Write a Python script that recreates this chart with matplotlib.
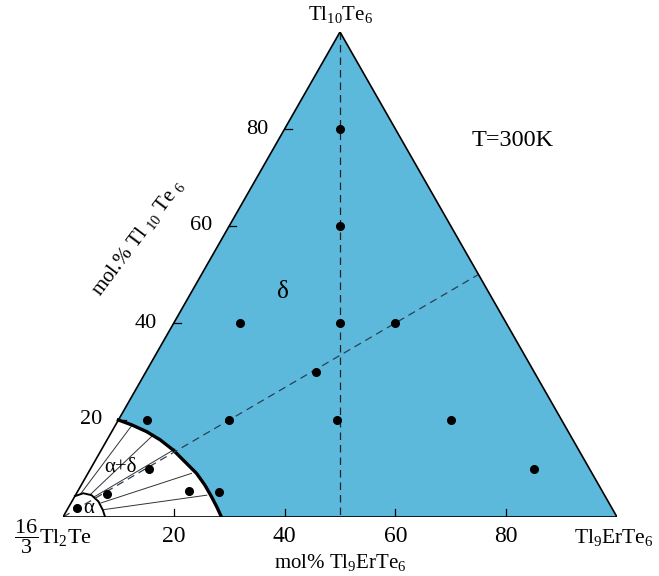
import numpy as np
import matplotlib.pyplot as plt

plt.rcParams['font.family'] = ['Liberation Serif', 'DejaVu Serif']
plt.rcParams['mathtext.fontset'] = 'custom'
plt.rcParams['mathtext.rm'] = 'Liberation Serif'
plt.rcParams['mathtext.it'] = 'Liberation Serif:italic'

# compositions in mol%: b = Tl9ErTe6, c = Tl10Te6
pts_b = [10, 20, 30, 12, 40, 30.7, 20, 5.2, 39.5, 60, 80, 10.5, 5.6, 20, 25.6, 1.6]
pts_c = [80, 60, 40, 40, 40, 30, 20, 20, 20, 20, 10, 10, 4.7, 5.4, 5.2, 1.9]

# delta phase boundary (thick arc)
delta_b = [0, 2.9, 6.3, 9.6, 13.0, 16.3, 19.6, 22.3, 24.7, 26.7, 28.6]
delta_c = [20, 19.0, 17.6, 15.9, 13.8, 11.4, 9.0, 6.6, 4.2, 2.1, 0]

# alpha phase boundary (small arc)
alpha_b = [0, 1.2, 2.9, 4.8, 6.5, 7.6]
alpha_c = [4.3, 4.9, 4.5, 3.2, 1.4, 0]

# tie lines in the alpha+delta field
tie_b0 = [0.8, 2.6, 3.6, 5.4, 6.5]
tie_c0 = [4.8, 4.6, 4.2, 2.9, 1.5]
tie_b1 = [3.0, 7.7, 13.2, 18.7, 23.7]
tie_c1 = [19.0, 16.6, 14.0, 9.0, 4.5]

ticks = [20, 40, 60, 80]

H = np.sqrt(3) / 2


def to_xy(b, c):
    b = np.asarray(b, dtype=float)
    c = np.asarray(c, dtype=float)
    return b + c / 2, c * H


fig = plt.figure(figsize=(6.59, 5.76), dpi=100)
ax = fig.add_axes([63 / 659, 59 / 576, 554 / 659, 485 / 576])
ax.set_xlim(0, 100)
ax.set_ylim(0, 100 * H)
ax.axis('off')

# blue delta field
dx, dy = to_xy(delta_b, delta_c)
tx, ty = to_xy([0, 100, 0], [100, 0, 0])
poly_x = list(dx) + [tx[1], tx[0]]
poly_y = list(dy) + [ty[1], ty[0]]
ax.fill(poly_x, poly_y, color='#5DB9DC', lw=0, zorder=1)

# triangle edges
ex, ey = to_xy([0, 100, 0, 0], [0, 0, 100, 0])
ax.plot(ex, ey, color='black', lw=1.2, zorder=4, solid_joinstyle='miter')

# tie lines
for b0, c0, b1, c1 in zip(tie_b0, tie_c0, tie_b1, tie_c1):
    lx, ly = to_xy([b0, b1], [c0, c1])
    ax.plot(lx, ly, color='#333333', lw=0.7, zorder=2)

# boundaries
ax.plot(dx, dy, color='black', lw=2.4, zorder=3)
axx, axy = to_xy(alpha_b, alpha_c)
ax.plot(axx, axy, color='black', lw=1.4, zorder=3)

# dashed sections
vx, vy = to_xy([0, 50], [100, 0])
ax.plot(vx, vy, color='#222222', lw=0.9, ls=(0, (6, 4)), zorder=3)
gx, gy = to_xy([0, 50], [0, 50])
ax.plot(gx, gy, color='#2a3f55', lw=0.9, ls=(0, (6, 4)), zorder=3)

# ticks
for t in ticks:
    bx, by = to_xy(t, 0)
    ax.plot([bx, bx], [by, by + 1.4], color='black', lw=0.9, zorder=4)
    lx, ly = to_xy(0, t)
    ax.plot([lx, lx + 1.3], [ly, ly], color='black', lw=0.9, zorder=4)
    ax.text(bx, -3.5, str(t), ha='center', va='center', fontsize=17)
    ax.text(lx - 5.0, ly, str(t), ha='center', va='center', fontsize=16)

# data points
px, py = to_xy(pts_b, pts_c)
ax.plot(px, py, 'o', color='black', ms=5.5, zorder=5, clip_on=False)

# labels
ax.text(50, 100 * H + 3.1, 'Tl$_{10}$Te$_6$', ha='center', va='center', fontsize=15)
ax.text(106.6, -3.6, 'Tl$_9$ErTe$_6$', ha='right', va='center', fontsize=15.5)
ax.text(50, -8.2, 'mol% Tl$_9$ErTe$_6$', ha='center', va='center', fontsize=15)
ax.text(-1.8, -3.4, r'$\dfrac{16}{3}$Tl$_2$Te', ha='center', va='center', fontsize=16)
ax.text(13.5, 50.0, 'mol.% Tl $_{10}$ Te $_6$', ha='center', va='center',
        fontsize=15, rotation=53)
ax.text(81.2, 67.3, 'T=300K', ha='center', va='center', fontsize=17.5)
ax.text(39.7, 40.2, 'δ', ha='center', va='center', fontsize=18)
ax.text(10.3, 8.9, 'α+δ', ha='center', va='center', fontsize=15)
ax.text(4.6, 1.6, 'α', ha='center', va='center', fontsize=15)

fig.savefig('out.png', dpi=100)
